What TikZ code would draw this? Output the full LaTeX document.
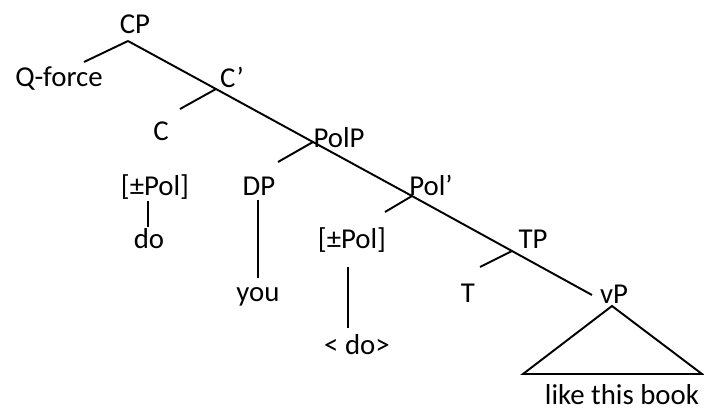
\documentclass[tikz,border=0pt]{standalone}
\usepackage{fontspec}
\setmainfont{Carlito}

\begin{document}
\begin{tikzpicture}[x=0.02cm,y=-0.02cm,line width=1.1pt,
  lbl/.style={anchor=base,inner sep=0pt,font=\fontsize{16.4}{19}\selectfont}]
\useasboundingbox (0,0) rectangle (704,409);
% labels
\node[lbl] (cp)     at (135,33)  {CP};
\node[lbl] (qforce) at (59,86)   {Q-force};
\node[lbl] (cbar)   at (232,87)  {C’};
\node[lbl] (c)      at (161,140) {C};
\node[lbl] (polp)   at (339,147) {PolP};
\node[lbl] (polA)   at (155,195) {[±Pol]};
\node[lbl] (dp)     at (259,195) {DP};
\node[lbl] (polbar) at (431,195) {Pol’};
\node[lbl] (doA)    at (149,248) {do};
\node[lbl] (you)    at (258,301) {you};
\node[lbl] (polB)   at (352,248) {[±Pol]};
\node[lbl] (doB)    at (357,354) {< do>};
\node[lbl] (tp)     at (533,248) {TP};
\node[lbl] (t)      at (468,302) {T};
\node[lbl] (vp)     at (614,303) {vP};
\node[lbl] (book)   at (622,404) {like this book};
% branching points
\coordinate (jcp)    at (128,41);
\coordinate (jcbar)  at (216,89);
\coordinate (jpolp)  at (313,142);
\coordinate (jpolbar) at (412,196);
\coordinate (jtp)    at (512,251);
\coordinate (jvp)    at (592,295);
% free ends
\coordinate (eq)   at (84,62);
\coordinate (ec)   at (180,109);
\coordinate (edp)  at (278,162);
\coordinate (epol) at (385,212);
\coordinate (et)   at (480,267);
% ends of the vertical lines
\coordinate (polAb) at (148,201);
\coordinate (doAt)  at (148,227);
\coordinate (dpb)   at (258,200);
\coordinate (yout)  at (258,278);
\coordinate (polBb) at (348,267);
\coordinate (doBt)  at (348,328);
% spine
\draw (jcp) -- (jcbar) -- (jpolp) -- (jpolbar) -- (jtp) -- (jvp);
% left branches
\draw (jcp) -- (eq);
\draw (jcbar) -- (ec);
\draw (jpolp) -- (edp);
\draw (jpolbar) -- (epol);
\draw (jtp) -- (et);
% vertical lines
\draw (polAb) -- (doAt);
\draw (dpb) -- (yout);
\draw (polBb) -- (doBt);
% triangle
\coordinate (apex) at (612,306);
\coordinate (bl) at (523,374);
\coordinate (br) at (702,374);
\draw (apex) -- (bl) -- (br) -- cycle;
\end{tikzpicture}
\end{document}
